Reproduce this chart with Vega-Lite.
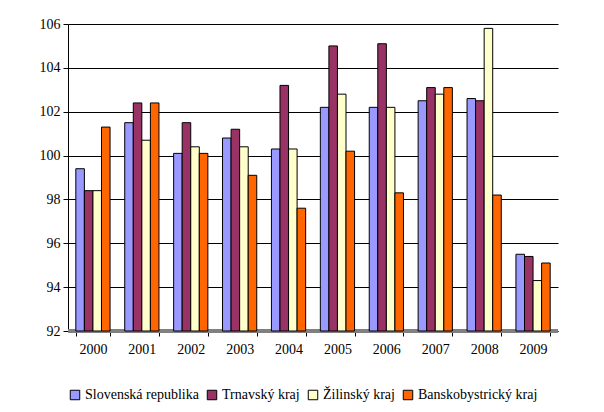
{
  "$schema": "https://vega.github.io/schema/vega-lite/v6.json",
  "width": 490,
  "height": 307,
  "autosize": {"type": "none"},
  "padding": {"left": 68, "top": 24, "right": 46, "bottom": 81},
  "background": "white",
  "config": {
    "view": {"stroke": null},
    "font": "'Liberation Serif', 'DejaVu Serif', serif",
    "axis": {"labelFont": "'Liberation Serif', 'DejaVu Serif', serif", "labelColor": "black", "labelFontSize": 14, "domainColor": "black", "tickColor": "black"},
    "legend": {"labelFont": "'Liberation Serif', 'DejaVu Serif', serif", "labelFontSize": 14, "labelColor": "black"}
  },
  "data": {
    "values": [
      {"year": "2000", "region": "Slovenská republika", "value": 99.4},
      {"year": "2000", "region": "Trnavský kraj", "value": 98.4},
      {"year": "2000", "region": "Žilinský kraj", "value": 98.4},
      {"year": "2000", "region": "Banskobystrický kraj", "value": 101.3},
      {"year": "2001", "region": "Slovenská republika", "value": 101.5},
      {"year": "2001", "region": "Trnavský kraj", "value": 102.4},
      {"year": "2001", "region": "Žilinský kraj", "value": 100.7},
      {"year": "2001", "region": "Banskobystrický kraj", "value": 102.4},
      {"year": "2002", "region": "Slovenská republika", "value": 100.1},
      {"year": "2002", "region": "Trnavský kraj", "value": 101.5},
      {"year": "2002", "region": "Žilinský kraj", "value": 100.4},
      {"year": "2002", "region": "Banskobystrický kraj", "value": 100.1},
      {"year": "2003", "region": "Slovenská republika", "value": 100.8},
      {"year": "2003", "region": "Trnavský kraj", "value": 101.2},
      {"year": "2003", "region": "Žilinský kraj", "value": 100.4},
      {"year": "2003", "region": "Banskobystrický kraj", "value": 99.1},
      {"year": "2004", "region": "Slovenská republika", "value": 100.3},
      {"year": "2004", "region": "Trnavský kraj", "value": 103.2},
      {"year": "2004", "region": "Žilinský kraj", "value": 100.3},
      {"year": "2004", "region": "Banskobystrický kraj", "value": 97.6},
      {"year": "2005", "region": "Slovenská republika", "value": 102.2},
      {"year": "2005", "region": "Trnavský kraj", "value": 105.0},
      {"year": "2005", "region": "Žilinský kraj", "value": 102.8},
      {"year": "2005", "region": "Banskobystrický kraj", "value": 100.2},
      {"year": "2006", "region": "Slovenská republika", "value": 102.2},
      {"year": "2006", "region": "Trnavský kraj", "value": 105.1},
      {"year": "2006", "region": "Žilinský kraj", "value": 102.2},
      {"year": "2006", "region": "Banskobystrický kraj", "value": 98.3},
      {"year": "2007", "region": "Slovenská republika", "value": 102.5},
      {"year": "2007", "region": "Trnavský kraj", "value": 103.1},
      {"year": "2007", "region": "Žilinský kraj", "value": 102.8},
      {"year": "2007", "region": "Banskobystrický kraj", "value": 103.1},
      {"year": "2008", "region": "Slovenská republika", "value": 102.6},
      {"year": "2008", "region": "Trnavský kraj", "value": 102.5},
      {"year": "2008", "region": "Žilinský kraj", "value": 105.8},
      {"year": "2008", "region": "Banskobystrický kraj", "value": 98.2},
      {"year": "2009", "region": "Slovenská republika", "value": 95.5},
      {"year": "2009", "region": "Trnavský kraj", "value": 95.4},
      {"year": "2009", "region": "Žilinský kraj", "value": 94.3},
      {"year": "2009", "region": "Banskobystrický kraj", "value": 95.1}
    ]
  },
  "layer": [
    {
      "mark": {"type": "rule", "color": "#808080", "strokeWidth": 4},
      "encoding": {"y": {"datum": 92, "type": "quantitative"}}
    },
    {
      "mark": {"type": "bar", "stroke": "black", "strokeWidth": 1},
      "encoding": {
        "x": {
          "field": "year", "type": "nominal", "title": null,
          "scale": {"paddingInner": 0.3, "paddingOuter": 0.16},
          "axis": {"labelAngle": 0, "labelPadding": 6, "tickSize": 5, "tickBand": "extent", "domainWidth": 1}
        },
        "xOffset": {
          "field": "region", "type": "nominal",
          "sort": ["Slovenská republika", "Trnavský kraj", "Žilinský kraj", "Banskobystrický kraj"],
          "scale": {"paddingInner": 0}
        },
        "y": {
          "field": "value", "type": "quantitative", "title": null,
          "scale": {"domain": [92, 106], "zero": false, "clamp": true, "nice": false},
          "axis": {"values": [92, 94, 96, 98, 100, 102, 104, 106], "grid": true, "gridColor": "black", "gridOpacity": 1, "tickSize": 5, "labelPadding": 3}
        },
        "y2": {"datum": 92},
        "color": {
          "field": "region", "type": "nominal",
          "sort": ["Slovenská republika", "Trnavský kraj", "Žilinský kraj", "Banskobystrický kraj"],
          "scale": {"domain": ["Slovenská republika", "Trnavský kraj", "Žilinský kraj", "Banskobystrický kraj"], "range": ["#9999FF", "#993366", "#FFFFCC", "#FF6600"]},
          "legend": {"orient": "bottom", "direction": "horizontal", "title": null, "symbolType": "square", "symbolSize": 90, "symbolStrokeColor": "black", "symbolStrokeWidth": 1, "symbolOpacity": 1, "columnPadding": 6, "labelOffset": 3, "offset": 32}
        }
      }
    }
  ]
}
